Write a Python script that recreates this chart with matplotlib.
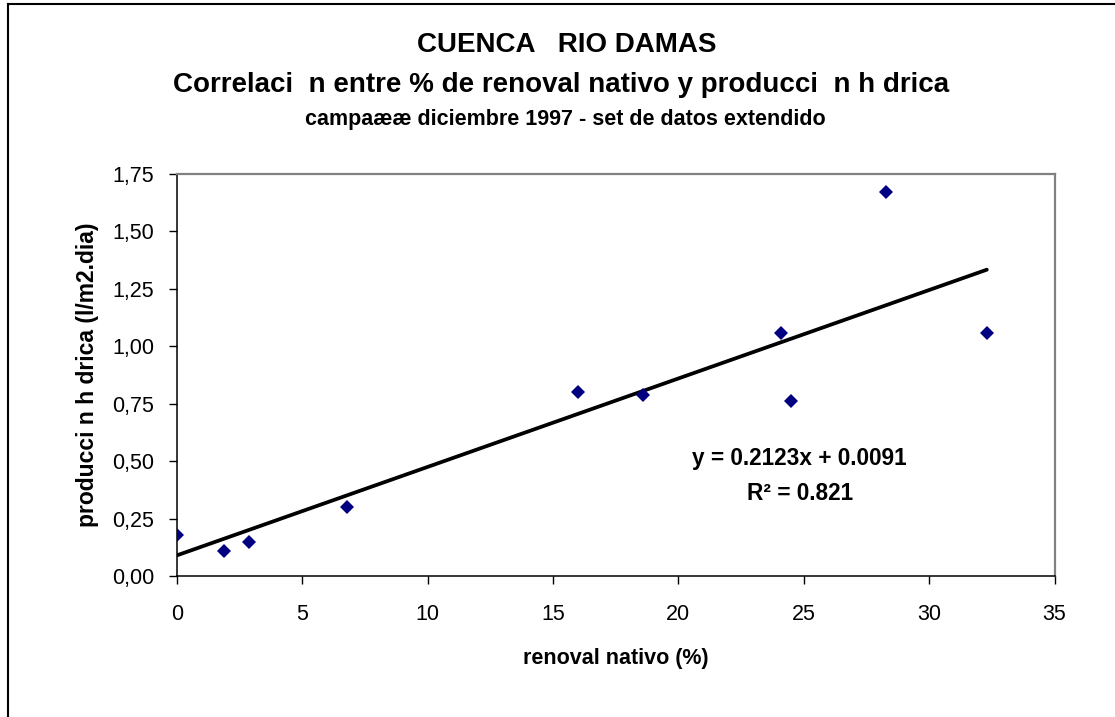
import numpy as np
import matplotlib
matplotlib.use("Agg")
import matplotlib.pyplot as plt
from matplotlib.lines import Line2D

plt.rcParams['font.family'] = ['Liberation Sans', 'DejaVu Sans']

# data
renoval = [0, 1.9, 2.9, 6.8, 16.0, 18.6, 24.1, 24.5, 28.3, 32.3]
produccion = [0.18, 0.11, 0.15, 0.30, 0.80, 0.79, 1.06, 0.76, 1.67, 1.06]

x_ticks = [0, 5, 10, 15, 20, 25, 30, 35]
y_ticks = [0, 0.25, 0.5, 0.75, 1.0, 1.25, 1.5, 1.75]
y_ticklabels = ['0,00', '0,25', '0,50', '0,75', '1,00', '1,25', '1,50', '1,75']

titulo1 = 'CUENCA   RIO DAMAS'
titulo2 = 'Correlaci  n entre % de renoval nativo y producci  n h drica'
titulo3 = 'campaææ diciembre 1997 - set de datos extendido'
ecuacion = 'y = 0.2123x + 0.0091'
r2 = 'R² = 0.821'

W, H = 1115, 717
fig = plt.figure(figsize=(W / 100, H / 100), dpi=100)
ax = fig.add_axes([176.7 / W, 1 - 576 / H, (1054.5 - 176.7) / W, (576 - 174) / H])

# linear trend line over the data range
m, b = np.polyfit(renoval, produccion, 1)
xs = np.array([min(renoval), max(renoval)])
ax.plot(xs, m * xs + b, color='black', lw=2.7, solid_capstyle='round', zorder=2)

ax.plot(renoval, produccion, linestyle='none', marker='D', markersize=7.5,
        color='#000080', markeredgewidth=0, zorder=3)

ax.set_xlim(0, 35)
ax.set_ylim(0, 1.75)
ax.set_xticks(x_ticks)
ax.set_yticks(y_ticks)
ax.set_yticklabels(y_ticklabels)
ax.tick_params(direction='out', length=6, width=1, colors='black', labelsize=15.5)
ax.tick_params(axis='x', pad=14)
ax.tick_params(axis='y', pad=10)

for s in ['left', 'bottom']:
    ax.spines[s].set_color('black')
    ax.spines[s].set_linewidth(1.1)
for s in ['top', 'right']:
    ax.spines[s].set_color('#808080')
    ax.spines[s].set_linewidth(1.6)

ax.set_xlabel('renoval nativo (%)', fontsize=15.5, fontweight='bold')
ax.set_ylabel('producci n h drica (l/m2.dia)', fontsize=16.5, fontweight='bold')
ax.xaxis.set_label_coords(0.5, -0.178)
ax.yaxis.set_label_coords(-0.089, 0.5)

fig.text(566.5 / W, 1 - 52 / H, titulo1, ha='center', va='baseline',
         fontsize=20, fontweight='bold')
fig.text(561.5 / W, 1 - 91.5 / H, titulo2, ha='center', va='baseline',
         fontsize=20, fontweight='bold')
fig.text(565 / W, 1 - 125 / H, titulo3, ha='center', va='baseline',
         fontsize=15.5, fontweight='bold')

fig.text(799 / W, 1 - 459 / H, ecuacion, ha='center', va='center',
         fontsize=16.3, fontweight='bold')
fig.text(800 / W, 1 - 493 / H, r2, ha='center', va='center',
         fontsize=16.3, fontweight='bold')

# outer chart frame (only left and top edges fall inside the image)
fig.add_artist(Line2D([8 / W, 8 / W], [-0.1, 1 - 4 / H], color='black', lw=1.5))
fig.add_artist(Line2D([8 / W, 1.1], [1 - 4 / H, 1 - 4 / H], color='black', lw=1.5))

fig.savefig('out.png', dpi=100, facecolor='white')
